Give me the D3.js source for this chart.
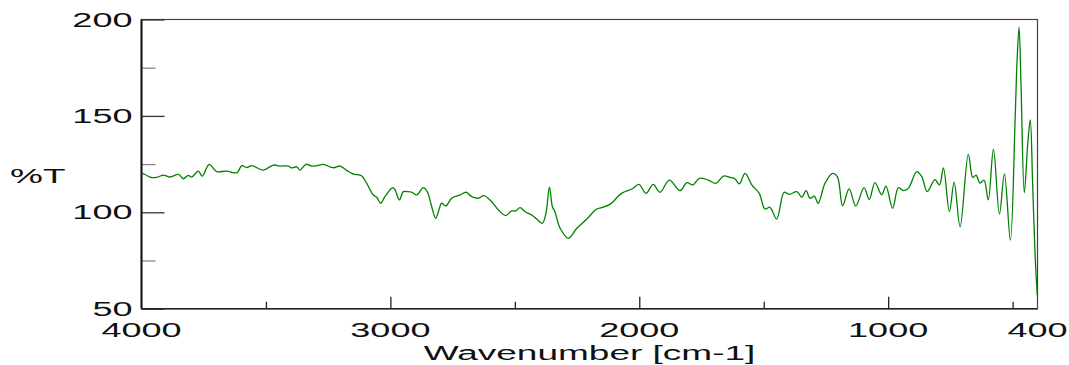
<!DOCTYPE html>
<html>
<head>
<meta charset="utf-8">
<script src="https://cdn.jsdelivr.net/npm/d3@7"></script>
<style>
  body { margin: 0; background: #fff; }
  text { font-family: 'Liberation Sans', Arial, sans-serif; fill: #111; }
</style>
</head>
<body>
<div id="chart"></div>
<script>
// spectrum (cm-1 and %T)
const wavenumbers = [3999, 3986, 3966, 3939, 3912, 3885, 3852, 3832, 3812, 3798,
  3772, 3756, 3728, 3698, 3658, 3617, 3597, 3577, 3557, 3511,
  3470, 3444, 3410, 3397, 3376, 3363, 3339, 3316, 3296, 3270,
  3243, 3227, 3202, 3177, 3155, 3142, 3115, 3095, 3069, 3055,
  3039, 3022, 2991, 2981, 2964, 2948, 2934, 2914, 2894, 2868,
  2852, 2834, 2818, 2801, 2794, 2777, 2754, 2720, 2696, 2673,
  2647, 2624, 2593, 2566, 2537, 2513, 2497, 2479, 2459, 2432,
  2412, 2390, 2375, 2361, 2349, 2339, 2318, 2285, 2251, 2211,
  2171, 2151, 2118, 2071, 2030, 2001, 1973, 1944, 1917, 1879,
  1836, 1809, 1785, 1759, 1723, 1692, 1662, 1635, 1615, 1598,
  1575, 1548, 1518, 1495, 1475, 1448, 1418, 1397, 1367, 1347,
  1330, 1314, 1297, 1281, 1254, 1223, 1204, 1183, 1157, 1130,
  1097, 1076, 1053, 1026, 1009, 982, 959, 939, 919, 885,
  865, 843, 812, 794, 778, 754, 735, 711, 678, 660,
  647, 631, 615, 598, 577, 553, 533, 509, 490, 482,
  474, 466, 453, 439, 429, 420, 410, 401];
const transmittance = [120.2, 119.6, 118.3, 118.1, 119.3, 118.3, 119.7, 117.4, 119.1, 118.3,
  121.4, 118.8, 124.9, 121.1, 121.4, 120.5, 124.2, 123.2, 124.2, 121.9,
  124.5, 124.0, 124.0, 123.0, 123.6, 121.9, 124.9, 124.0, 124.2, 124.9,
  123.6, 123.1, 124.0, 121.9, 120.2, 119.7, 118.8, 115.0, 109.0, 107.8,
  104.7, 108.1, 112.8, 111.6, 106.4, 110.7, 110.7, 110.4, 109.0, 112.8,
  110.7, 102.9, 96.9, 102.9, 104.7, 103.3, 107.3, 109.0, 110.4, 108.1,
  107.3, 108.6, 105.5, 101.2, 98.3, 100.7, 100.7, 102.4, 100.3, 98.6,
  96.5, 94.3, 99.5, 113.0, 102.9, 100.3, 91.7, 86.5, 91.7, 96.5,
  101.7, 102.4, 104.1, 109.8, 112.1, 114.5, 109.8, 114.5, 110.4, 116.7,
  111.2, 115.4, 114.2, 117.6, 116.7, 115.0, 118.8, 118.1, 117.3, 114.7,
  120.2, 114.2, 109.8, 101.7, 102.6, 96.5, 110.4, 109.3, 110.7, 107.8,
  111.2, 107.3, 108.4, 104.7, 115.0, 120.2, 118.5, 103.4, 112.1, 103.3,
  112.8, 106.7, 115.4, 109.0, 113.6, 102.1, 112.8, 111.2, 112.4, 121.1,
  118.5, 110.7, 116.9, 114.2, 123.0, 100.3, 115.6, 92.5, 130.0, 118.0,
  119.3, 115.2, 116.7, 106.4, 132.8, 99.1, 119.9, 85.6, 147.9, 179.0,
  196.0, 165.0, 110.2, 135.8, 147.9, 116.7, 78.7, 57.0];

const yMajorTicks = [50, 100, 150, 200];
const yMinorTicks = [75, 125, 175];
const xMajorTicks = [3000, 2000, 1000];
const xMinorTicks = [3500, 2500, 1500, 500];
const xTickLabels = [4000, 3000, 2000, 1000, 400];
const yTickLabels = [50, 100, 150, 200];

const width = 1069, height = 365;
const plot = {left: 141.5, right: 1037.5, top: 19.5, bottom: 308.7};
const stretch = 1.85;

const x = d3.scaleLinear().domain([4000, 400]).range([plot.left, plot.right]);
const y = d3.scaleLinear().domain([50, 200]).range([plot.bottom, plot.top]);

const svg = d3.select('#chart').append('svg')
  .attr('width', width)
  .attr('height', height);

svg.append('defs').append('clipPath').attr('id', 'plot')
  .append('rect')
  .attr('x', plot.left).attr('y', plot.top)
  .attr('width', plot.right - plot.left).attr('height', plot.bottom - plot.top);

// frame
svg.append('rect')
  .attr('x', plot.left).attr('y', plot.top)
  .attr('width', plot.right - plot.left).attr('height', plot.bottom - plot.top)
  .attr('fill', 'none')
  .attr('stroke', '#444')
  .attr('stroke-width', 1.2);

// ticks
const tickStyle = (g, color) => {
  g.select('.domain').remove();
  g.selectAll('line').attr('stroke', color).attr('stroke-width', 1.3);
};

svg.append('g')
  .attr('transform', `translate(${plot.left},0)`)
  .call(d3.axisLeft(y).tickValues(yMajorTicks).tickSize(-23).tickFormat(''))
  .call(g => tickStyle(g, '#333'));
svg.append('g')
  .attr('transform', `translate(${plot.left},0)`)
  .call(d3.axisLeft(y).tickValues(yMinorTicks).tickSize(-14).tickFormat(''))
  .call(g => tickStyle(g, '#888'));
svg.append('g')
  .attr('transform', `translate(0,${plot.bottom})`)
  .call(d3.axisBottom(x).tickValues(xMajorTicks).tickSize(-12).tickFormat(''))
  .call(g => tickStyle(g, '#222'));
svg.append('g')
  .attr('transform', `translate(0,${plot.bottom})`)
  .call(d3.axisBottom(x).tickValues(xMinorTicks).tickSize(-7).tickFormat(''))
  .call(g => tickStyle(g, '#222'));

// axis lines
svg.append('line')
  .attr('x1', plot.left).attr('x2', plot.left).attr('y1', plot.top).attr('y2', plot.bottom)
  .attr('stroke', '#111').attr('stroke-width', 2);
svg.append('line')
  .attr('x1', plot.left).attr('x2', plot.right).attr('y1', plot.bottom).attr('y2', plot.bottom)
  .attr('stroke', '#222').attr('stroke-width', 1.6);

// tick labels (wide font)
svg.selectAll('.ylab')
  .data(yTickLabels)
  .enter().append('text')
  .attr('class', 'ylab')
  .attr('transform', d => `translate(132.5,${y(d) + 7}) scale(${stretch},1)`)
  .attr('text-anchor', 'end')
  .style('font-size', '19.5px')
  .text(d => d);

svg.selectAll('.xlab')
  .data(xTickLabels)
  .enter().append('text')
  .attr('class', 'xlab')
  .attr('transform', d => `translate(${x(d)},337) scale(${stretch},1)`)
  .attr('text-anchor', 'middle')
  .style('font-size', '19.5px')
  .text(d => d);

svg.append('text')
  .attr('transform', `translate(${(plot.left + plot.right) / 2},360) scale(${stretch},1)`)
  .attr('text-anchor', 'middle')
  .style('font-size', '20px')
  .text('Wavenumber [cm-1]');

svg.append('text')
  .attr('transform', `translate(10,183) scale(${stretch},1)`)
  .style('font-size', '20px')
  .text('%T');

// spectrum
const points = wavenumbers.map((w, i) => [w, transmittance[i]]);
const line = d3.line()
  .x(d => x(d[0]))
  .y(d => y(d[1]))
  .curve(d3.curveCatmullRom.alpha(0.5));

svg.append('path')
  .datum(points)
  .attr('clip-path', 'url(#plot)')
  .attr('d', line)
  .attr('fill', 'none')
  .attr('stroke', '#008000')
  .attr('stroke-width', 1.3);
</script>
</body>
</html>
